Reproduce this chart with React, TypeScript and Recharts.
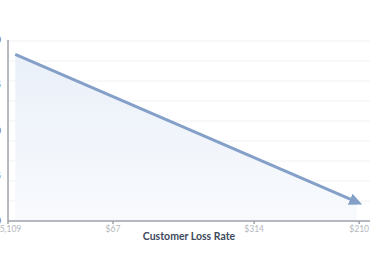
import React from "react";
import {
  ComposedChart,
  Area,
  Line,
  XAxis,
  YAxis,
  CartesianGrid,
} from "recharts";

// x position (0-100 scale) and loss rate of the trend line
const pointX = [2, 96.3];
const lossRate = [92, 10.5];

// x-axis tick positions and their labels
const xTicks = [0, 29, 68, 97];
const xTickLabels = ["$5,109", "$67", "$314", "$210"];

// y-axis ticks (labels sit outside the visible frame)
const yTicks = [0, 25, 50, 75, 100];

const LINE_COLOR = "#84a0c8";
const AXIS_COLOR = "#9ea3aa";
const GRID_COLOR = "#f1f2f4";

const data = pointX.map((x, i) => ({ x, rate: lossRate[i] }));

const App: React.FC = () => {
  const labelFor = (v: number) => {
    const idx = xTicks.indexOf(v);
    return idx >= 0 ? xTickLabels[idx] : "";
  };

  return (
    <div
      style={{
        position: "absolute",
        left: 0,
        top: 0,
        width: 375,
        height: 278,
        overflow: "hidden",
        background: "#fff",
        fontFamily: "Lato, 'Open Sans', sans-serif",
      }}
    >
      <div style={{ marginLeft: -32 }}>
        <ComposedChart
          width={407}
          height={278}
          data={data}
          margin={{ top: 40, right: 5, bottom: 0, left: 0 }}
        >
          <defs>
            <linearGradient id="lossFill" x1="0" y1="0" x2="0" y2="1">
              <stop offset="0%" stopColor="#eaf0f9" />
              <stop offset="100%" stopColor="#f8fafd" />
            </linearGradient>
            <marker
              id="arrowHead"
              markerUnits="userSpaceOnUse"
              markerWidth={14}
              markerHeight={12}
              refX={7}
              refY={6}
              orient="auto"
            >
              <path d="M0,0 L13,6 L0,12 z" fill={LINE_COLOR} />
            </marker>
          </defs>
          {/* 背景のグリッド */}
          <CartesianGrid
            vertical={false}
            stroke={GRID_COLOR}
            horizontalCoordinatesGenerator={({ offset }: any) =>
              Array.from({ length: 10 }, (_, i) => offset.top + 1 + (i * (offset.height - 1)) / 9)
            }
          />
          <XAxis
            dataKey="x"
            type="number"
            domain={[0, 100]}
            ticks={xTicks}
            tickFormatter={labelFor}
            height={57}
            stroke={AXIS_COLOR}
            strokeWidth={1.5}
            tickSize={3}
            tickMargin={2}
            tick={{ fill: "#b4b8be", fontSize: 8.5 }}
            label={{
              value: "Customer Loss Rate",
              position: "insideTop",
              offset: 12,
              fill: "#3e4a5c",
              fontSize: 10.5,
              fontWeight: 700,
            }}
          />
          <YAxis
            type="number"
            domain={[0, 100]}
            ticks={yTicks}
            width={40}
            stroke={AXIS_COLOR}
            strokeWidth={1.5}
            tickLine={false}
            tickSize={4}
            tickMargin={3}
            tick={{ fill: "#666", fontSize: 9 }}
            tickFormatter={(v: number) => `${v}`}
          />
          <Area
            dataKey="rate"
            type="linear"
            stroke="none"
            fill="url(#lossFill)"
            fillOpacity={1}
            isAnimationActive={false}
          />
          <Line
            dataKey="rate"
            type="linear"
            stroke={LINE_COLOR}
            strokeWidth={3}
            dot={false}
            activeDot={false}
            markerEnd="url(#arrowHead)"
            isAnimationActive={false}
          />
        </ComposedChart>
      </div>
    </div>
  );
};

export default App;
